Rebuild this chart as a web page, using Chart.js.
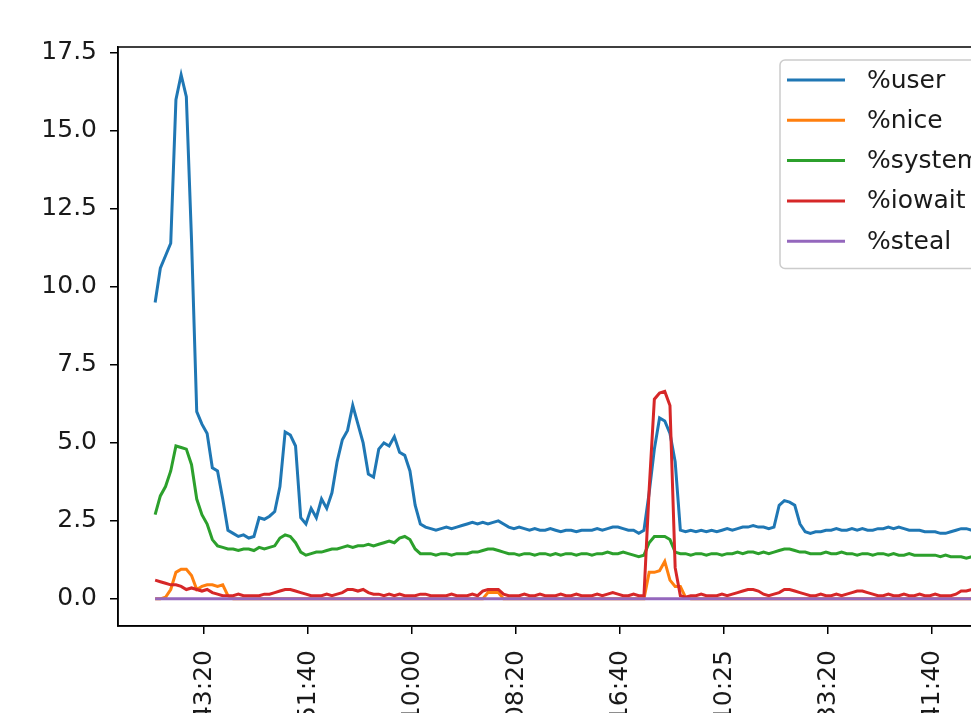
<!DOCTYPE html>
<html>
<head>
<meta charset="utf-8">
<title>CPU usage</title>
<script src="https://cdn.jsdelivr.net/npm/chart.js@4.4.0/dist/chart.umd.min.js"></script>
<style>
  html, body { margin: 0; padding: 0; background: #fff; overflow: hidden; }
  #wrap { width: 971px; height: 713px; overflow: hidden; position: relative; }
  canvas { display: block; }
</style>
</head>
<body>
<div id="wrap"><canvas id="cpu-chart" width="1100" height="800"></canvas></div>
<script>
// sample times (seconds relative to first tick) and series
const firstSample = -235;
const sampleSeconds = 25;

const seriesLabels = ["%user", "%nice", "%system", "%iowait", "%steal"];
const seriesColors = ["#1f77b4", "#ff7f0e", "#2ca02c", "#d62728", "#9467bd"];

const userValues = [
  9.5, 10.6, 11.0, 11.4, 16.0, 16.8, 16.1, 11.5, 6.0, 5.6,
  5.3, 4.2, 4.1, 3.2, 2.2, 2.1, 2.0, 2.05, 1.95, 2.0,
  2.6, 2.55, 2.65, 2.8, 3.6, 5.35, 5.25, 4.9, 2.6, 2.4,
  2.9, 2.6, 3.2, 2.9, 3.4, 4.4, 5.1, 5.4, 6.2, 5.6,
  5.0, 4.0, 3.9, 4.8, 5.0, 4.9, 5.2, 4.7, 4.6, 4.1,
  3.0, 2.4, 2.3, 2.25, 2.2, 2.25, 2.3, 2.25, 2.3, 2.35,
  2.4, 2.45, 2.4, 2.45, 2.4, 2.45, 2.5, 2.4, 2.3, 2.25,
  2.3, 2.25, 2.2, 2.25, 2.2, 2.2, 2.25, 2.2, 2.15, 2.2,
  2.2, 2.15, 2.2, 2.2, 2.2, 2.25, 2.2, 2.25, 2.3, 2.3,
  2.25, 2.2, 2.2, 2.1, 2.2, 3.4, 4.8, 5.8, 5.7, 5.3,
  4.4, 2.2, 2.15, 2.2, 2.15, 2.2, 2.15, 2.2, 2.15, 2.2,
  2.25, 2.2, 2.25, 2.3, 2.3, 2.35, 2.3, 2.3, 2.25, 2.3,
  3.0, 3.15, 3.1, 3.0, 2.4, 2.15, 2.1, 2.15, 2.15, 2.2,
  2.2, 2.25, 2.2, 2.2, 2.25, 2.2, 2.25, 2.2, 2.2, 2.25,
  2.25, 2.3, 2.25, 2.3, 2.25, 2.2, 2.2, 2.2, 2.15, 2.15,
  2.15, 2.1, 2.1, 2.15, 2.2, 2.25, 2.25, 2.2, 2.2, 2.2,
  2.25, 2.2, 2.2, 2.25
];

const niceValues = [
  0, 0, 0.05, 0.3, 0.85, 0.95, 0.95, 0.75, 0.3, 0.4,
  0.45, 0.45, 0.4, 0.45, 0.1, 0, 0, 0, 0, 0,
  0, 0, 0, 0, 0, 0, 0, 0, 0, 0,
  0, 0, 0, 0, 0, 0, 0, 0, 0, 0,
  0, 0, 0, 0, 0, 0, 0, 0, 0, 0,
  0, 0, 0, 0, 0, 0, 0, 0, 0, 0,
  0, 0, 0, 0, 0.2, 0.2, 0.2, 0, 0, 0,
  0, 0, 0, 0, 0, 0, 0, 0, 0, 0,
  0, 0, 0, 0, 0, 0, 0, 0, 0, 0,
  0, 0, 0, 0, 0, 0.85, 0.85, 0.9, 1.2, 0.6,
  0.4, 0.4, 0.05, 0, 0, 0, 0, 0, 0, 0,
  0, 0, 0, 0, 0, 0, 0, 0, 0, 0,
  0, 0, 0, 0, 0, 0, 0, 0, 0, 0,
  0, 0, 0, 0, 0, 0, 0, 0, 0, 0,
  0, 0, 0, 0, 0, 0, 0, 0, 0, 0,
  0, 0, 0, 0, 0, 0, 0, 0, 0, 0,
  0, 0, 0, 0
];

const systemValues = [
  2.7, 3.3, 3.6, 4.1, 4.9, 4.85, 4.8, 4.3, 3.2, 2.7,
  2.4, 1.9, 1.7, 1.65, 1.6, 1.6, 1.55, 1.6, 1.6, 1.55,
  1.65, 1.6, 1.65, 1.7, 1.95, 2.05, 2.0, 1.8, 1.5, 1.4,
  1.45, 1.5, 1.5, 1.55, 1.6, 1.6, 1.65, 1.7, 1.65, 1.7,
  1.7, 1.75, 1.7, 1.75, 1.8, 1.85, 1.8, 1.95, 2.0, 1.9,
  1.6, 1.45, 1.45, 1.45, 1.4, 1.45, 1.45, 1.4, 1.45, 1.45,
  1.45, 1.5, 1.5, 1.55, 1.6, 1.6, 1.55, 1.5, 1.45, 1.45,
  1.4, 1.45, 1.45, 1.4, 1.45, 1.45, 1.4, 1.45, 1.4, 1.45,
  1.45, 1.4, 1.45, 1.45, 1.4, 1.45, 1.45, 1.5, 1.45, 1.45,
  1.5, 1.45, 1.4, 1.35, 1.4, 1.8, 2.0, 2.0, 2.0, 1.9,
  1.5, 1.45, 1.45, 1.4, 1.45, 1.45, 1.4, 1.45, 1.45, 1.4,
  1.45, 1.45, 1.5, 1.45, 1.5, 1.5, 1.45, 1.5, 1.45, 1.5,
  1.55, 1.6, 1.6, 1.55, 1.5, 1.5, 1.45, 1.45, 1.45, 1.5,
  1.45, 1.45, 1.5, 1.45, 1.45, 1.4, 1.45, 1.45, 1.4, 1.45,
  1.45, 1.4, 1.45, 1.4, 1.4, 1.45, 1.4, 1.4, 1.4, 1.4,
  1.4, 1.35, 1.4, 1.35, 1.35, 1.35, 1.3, 1.35, 1.35, 1.3,
  1.35, 1.3, 1.3, 1.35
];

const iowaitValues = [
  0.6, 0.55, 0.5, 0.45, 0.45, 0.4, 0.3, 0.35, 0.3, 0.25,
  0.3, 0.2, 0.15, 0.1, 0.1, 0.1, 0.15, 0.1, 0.1, 0.1,
  0.1, 0.15, 0.15, 0.2, 0.25, 0.3, 0.3, 0.25, 0.2, 0.15,
  0.1, 0.1, 0.1, 0.15, 0.1, 0.15, 0.2, 0.3, 0.3, 0.25,
  0.3, 0.2, 0.15, 0.15, 0.1, 0.15, 0.1, 0.15, 0.1, 0.1,
  0.1, 0.15, 0.15, 0.1, 0.1, 0.1, 0.1, 0.15, 0.1, 0.1,
  0.1, 0.15, 0.1, 0.25, 0.3, 0.3, 0.3, 0.15, 0.1, 0.1,
  0.1, 0.15, 0.1, 0.1, 0.15, 0.1, 0.1, 0.1, 0.15, 0.1,
  0.1, 0.15, 0.1, 0.1, 0.1, 0.15, 0.1, 0.15, 0.2, 0.15,
  0.1, 0.1, 0.15, 0.1, 0.1, 3.5, 6.4, 6.6, 6.65, 6.2,
  1.0, 0.1, 0.05, 0.1, 0.1, 0.15, 0.1, 0.1, 0.1, 0.15,
  0.1, 0.15, 0.2, 0.25, 0.3, 0.3, 0.25, 0.15, 0.1, 0.15,
  0.2, 0.3, 0.3, 0.25, 0.2, 0.15, 0.1, 0.1, 0.15, 0.1,
  0.1, 0.15, 0.1, 0.15, 0.2, 0.25, 0.25, 0.2, 0.15, 0.1,
  0.1, 0.15, 0.1, 0.1, 0.15, 0.1, 0.1, 0.15, 0.1, 0.1,
  0.15, 0.1, 0.1, 0.1, 0.15, 0.25, 0.25, 0.3, 0.25, 0.25,
  0.2, 0.25, 0.2, 0.2
];

const stealValues = [
  0, 0, 0, 0, 0, 0, 0, 0, 0, 0,
  0, 0, 0, 0, 0, 0, 0, 0, 0, 0,
  0, 0, 0, 0, 0, 0, 0, 0, 0, 0,
  0, 0, 0, 0, 0, 0, 0, 0, 0, 0,
  0, 0, 0, 0, 0, 0, 0, 0, 0, 0,
  0, 0, 0, 0, 0, 0, 0, 0, 0, 0,
  0, 0, 0, 0, 0, 0, 0, 0, 0, 0,
  0, 0, 0, 0, 0, 0, 0, 0, 0, 0,
  0, 0, 0, 0, 0, 0, 0, 0, 0, 0,
  0, 0, 0, 0, 0, 0, 0, 0, 0, 0,
  0, 0, 0, 0, 0, 0, 0, 0, 0, 0,
  0, 0, 0, 0, 0, 0, 0, 0, 0, 0,
  0, 0, 0, 0, 0, 0, 0, 0, 0, 0,
  0, 0, 0, 0, 0, 0, 0, 0, 0, 0,
  0, 0, 0, 0, 0, 0, 0, 0, 0, 0,
  0, 0, 0, 0, 0, 0, 0, 0, 0, 0,
  0, 0, 0, 0
];

const xTickValues = [0, 500, 1000, 1500, 2000, 2500, 3000, 3500];
const xTickLabels = [
  "12:43:20", "12:51:40", "13:10:00", "13:08:20",
  "13:16:40", "13:10:25", "13:33:20", "13:41:40"
];
const yTickValues = [0, 2.5, 5, 7.5, 10, 12.5, 15, 17.5];

const allValues = [userValues, niceValues, systemValues, iowaitValues, stealValues];

function toPoints(values) {
  return values.map((value, index) => ({
    x: firstSample + index * sampleSeconds,
    y: value,
  }));
}

const fontFamily = "'DejaVu Sans', 'Liberation Sans', sans-serif";
const textColor = "#1a1a1a";
const fontSize = 25;

const axesFrame = {
  id: "axesFrame",
  afterDatasetsDraw(chart) {
    const { ctx, chartArea } = chart;
    ctx.save();
    ctx.strokeStyle = "#000";
    ctx.lineWidth = 1.5;
    ctx.strokeRect(
      chartArea.left,
      chartArea.top,
      chartArea.right - chartArea.left,
      chartArea.bottom - chartArea.top
    );
    ctx.restore();
  },
};

// matplotlib-style legend box in the upper right of the axes
const boxLegend = {
  id: "boxLegend",
  afterDraw(chart) {
    const { ctx, chartArea } = chart;
    const left = chartArea.left + 662;
    const top = chartArea.top + 13;
    const width = 250;
    const rowHeight = 40.3;
    const height = rowHeight * chart.data.datasets.length + 7;

    ctx.save();
    ctx.beginPath();
    ctx.roundRect(left, top, width, height, 5);
    ctx.fillStyle = "rgba(255,255,255,0.8)";
    ctx.fill();
    ctx.strokeStyle = "#cccccc";
    ctx.lineWidth = 1.5;
    ctx.stroke();

    ctx.font = `${fontSize}px ${fontFamily}`;
    ctx.textBaseline = "middle";
    ctx.fillStyle = textColor;
    chart.data.datasets.forEach((dataset, index) => {
      const y = top + 20 + index * rowHeight;
      ctx.beginPath();
      ctx.moveTo(left + 7, y);
      ctx.lineTo(left + 65, y);
      ctx.strokeStyle = dataset.borderColor;
      ctx.lineWidth = 3;
      ctx.stroke();
      ctx.fillText(dataset.label, left + 87, y + 1);
    });
    ctx.restore();
  },
};

const datasets = seriesLabels.map((label, index) => ({
  label,
  data: toPoints(allValues[index]),
  borderColor: seriesColors[index],
  backgroundColor: seriesColors[index],
  borderWidth: 3,
  pointRadius: 0,
  tension: 0,
  fill: false,
  order: seriesLabels.length - index,
}));

new Chart(document.getElementById("cpu-chart"), {
  type: "line",
  data: { datasets },
  options: {
    responsive: false,
    animation: false,
    events: [],
    layout: { padding: { top: 47, left: 0, right: 50, bottom: 0 } },
    scales: {
      x: {
        type: "linear",
        min: -413.5,
        max: 4067,
        afterBuildTicks(scale) {
          scale.ticks = xTickValues.map((value) => ({ value }));
        },
        afterFit(scale) {
          scale.height = 174;
        },
        ticks: {
          autoSkip: false,
          minRotation: 90,
          maxRotation: 90,
          padding: 16,
          color: textColor,
          font: { family: fontFamily, size: fontSize },
          callback(value, index) {
            return xTickLabels[index];
          },
        },
        grid: {
          drawOnChartArea: false,
          drawTicks: true,
          tickLength: 8,
          color: "#000",
          lineWidth: 1.5,
        },
        border: { display: true, color: "#000", width: 1.5 },
      },
      y: {
        min: -0.87,
        max: 17.69,
        afterBuildTicks(scale) {
          scale.ticks = yTickValues.map((value) => ({ value }));
        },
        afterFit(scale) {
          scale.width = 118;
        },
        ticks: {
          padding: 13,
          color: textColor,
          font: { family: fontFamily, size: fontSize },
          callback(value) {
            return value.toFixed(1);
          },
        },
        grid: {
          drawOnChartArea: false,
          drawTicks: true,
          tickLength: 8,
          color: "#000",
          lineWidth: 1.5,
        },
        border: { display: true, color: "#000", width: 1.5 },
      },
    },
    plugins: {
      legend: { display: false },
      tooltip: { enabled: false },
    },
  },
  plugins: [axesFrame, boxLegend],
});
</script>
</body>
</html>
